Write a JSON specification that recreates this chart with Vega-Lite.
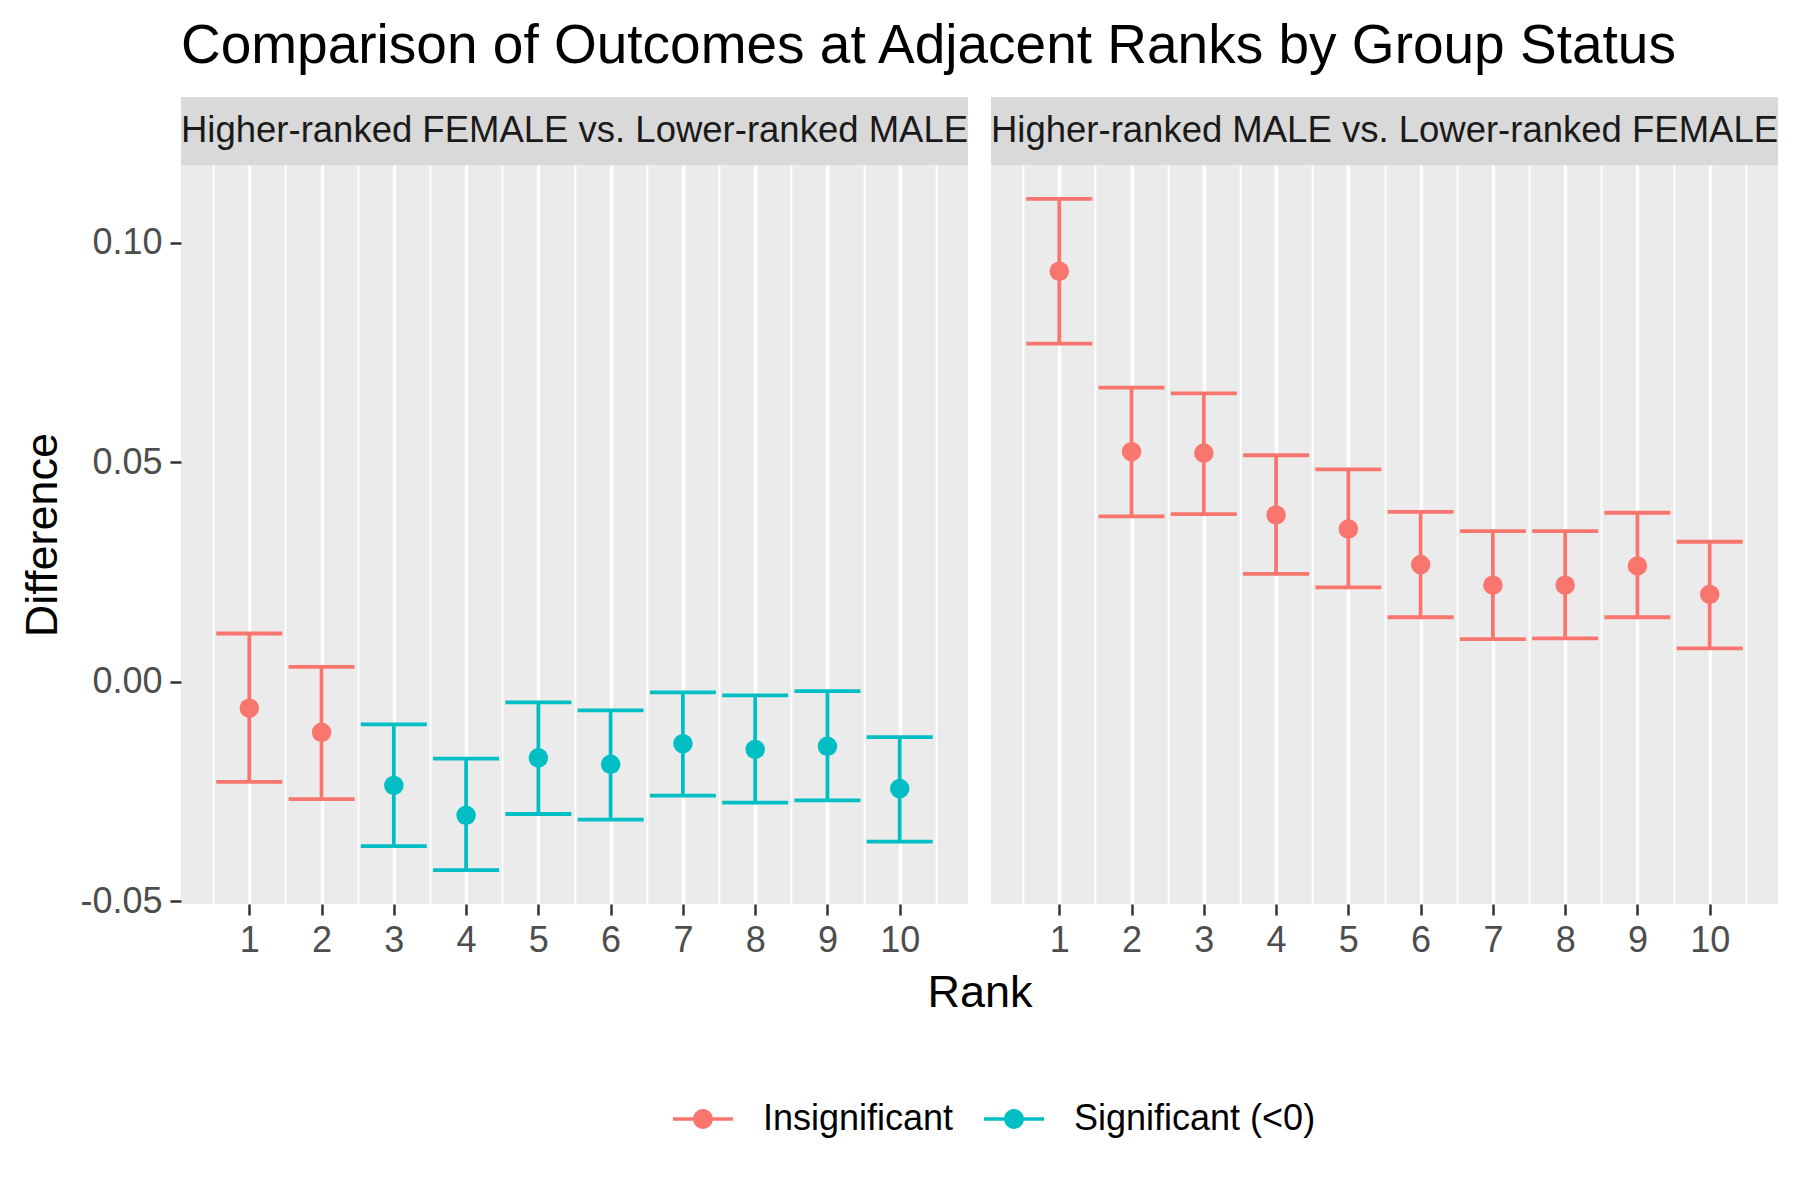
{
  "$schema": "https://vega.github.io/schema/vega-lite/v6.json",
  "padding": {"left": 20, "top": 19, "right": 20, "bottom": 10},
  "title": {"text": "Comparison of Outcomes at Adjacent Ranks by Group Status", "anchor": "start", "frame": "group", "fontSize": 55, "font": "Liberation Sans", "fontWeight": "normal", "color": "#000000", "offset": 22},
  "data": {"values": [
    {"panel": "Higher-ranked FEMALE vs. Lower-ranked MALE", "rank": 1, "diff": -0.0060, "lower": -0.0228, "upper": 0.0110, "sig": "Insignificant"},
    {"panel": "Higher-ranked FEMALE vs. Lower-ranked MALE", "rank": 2, "diff": -0.0115, "lower": -0.0267, "upper": 0.0034, "sig": "Insignificant"},
    {"panel": "Higher-ranked FEMALE vs. Lower-ranked MALE", "rank": 3, "diff": -0.0236, "lower": -0.0374, "upper": -0.0097, "sig": "Significant (<0)"},
    {"panel": "Higher-ranked FEMALE vs. Lower-ranked MALE", "rank": 4, "diff": -0.0304, "lower": -0.0429, "upper": -0.0175, "sig": "Significant (<0)"},
    {"panel": "Higher-ranked FEMALE vs. Lower-ranked MALE", "rank": 5, "diff": -0.0173, "lower": -0.0301, "upper": -0.0047, "sig": "Significant (<0)"},
    {"panel": "Higher-ranked FEMALE vs. Lower-ranked MALE", "rank": 6, "diff": -0.0188, "lower": -0.0314, "upper": -0.0065, "sig": "Significant (<0)"},
    {"panel": "Higher-ranked FEMALE vs. Lower-ranked MALE", "rank": 7, "diff": -0.0141, "lower": -0.0259, "upper": -0.0024, "sig": "Significant (<0)"},
    {"panel": "Higher-ranked FEMALE vs. Lower-ranked MALE", "rank": 8, "diff": -0.0154, "lower": -0.0275, "upper": -0.0031, "sig": "Significant (<0)"},
    {"panel": "Higher-ranked FEMALE vs. Lower-ranked MALE", "rank": 9, "diff": -0.0147, "lower": -0.0270, "upper": -0.0021, "sig": "Significant (<0)"},
    {"panel": "Higher-ranked FEMALE vs. Lower-ranked MALE", "rank": 10, "diff": -0.0243, "lower": -0.0364, "upper": -0.0126, "sig": "Significant (<0)"},
    {"panel": "Higher-ranked MALE vs. Lower-ranked FEMALE", "rank": 1, "diff": 0.0935, "lower": 0.0770, "upper": 0.1100, "sig": "Insignificant"},
    {"panel": "Higher-ranked MALE vs. Lower-ranked FEMALE", "rank": 2, "diff": 0.0524, "lower": 0.0377, "upper": 0.0670, "sig": "Insignificant"},
    {"panel": "Higher-ranked MALE vs. Lower-ranked FEMALE", "rank": 3, "diff": 0.0521, "lower": 0.0382, "upper": 0.0657, "sig": "Insignificant"},
    {"panel": "Higher-ranked MALE vs. Lower-ranked FEMALE", "rank": 4, "diff": 0.0380, "lower": 0.0246, "upper": 0.0516, "sig": "Insignificant"},
    {"panel": "Higher-ranked MALE vs. Lower-ranked FEMALE", "rank": 5, "diff": 0.0348, "lower": 0.0215, "upper": 0.0484, "sig": "Insignificant"},
    {"panel": "Higher-ranked MALE vs. Lower-ranked FEMALE", "rank": 6, "diff": 0.0267, "lower": 0.0147, "upper": 0.0387, "sig": "Insignificant"},
    {"panel": "Higher-ranked MALE vs. Lower-ranked FEMALE", "rank": 7, "diff": 0.0220, "lower": 0.0097, "upper": 0.0343, "sig": "Insignificant"},
    {"panel": "Higher-ranked MALE vs. Lower-ranked FEMALE", "rank": 8, "diff": 0.0220, "lower": 0.0099, "upper": 0.0343, "sig": "Insignificant"},
    {"panel": "Higher-ranked MALE vs. Lower-ranked FEMALE", "rank": 9, "diff": 0.0264, "lower": 0.0147, "upper": 0.0385, "sig": "Insignificant"},
    {"panel": "Higher-ranked MALE vs. Lower-ranked FEMALE", "rank": 10, "diff": 0.0199, "lower": 0.0076, "upper": 0.0319, "sig": "Insignificant"}
  ]},
  "bounds": "flush",
  "columns": 2,
  "spacing": {"row": 0, "column": 23},
  "concat": [
    {
      "width": 787, "height": 68,
      "view": {"fill": "#D9D9D9", "stroke": null},
      "transform": [
        {"filter": "datum.panel === 'Higher-ranked FEMALE vs. Lower-ranked MALE'"},
        {"aggregate": [{"op": "count", "as": "n"}], "groupby": ["panel"]}
      ],
      "mark": {"type": "text", "fontSize": 36.5, "color": "#1A1A1A", "font": "Liberation Sans", "align": "center", "baseline": "middle"},
      "encoding": {"text": {"field": "panel", "type": "nominal"}}
    },
    {
      "width": 787, "height": 68,
      "view": {"fill": "#D9D9D9", "stroke": null},
      "transform": [
        {"filter": "datum.panel === 'Higher-ranked MALE vs. Lower-ranked FEMALE'"},
        {"aggregate": [{"op": "count", "as": "n"}], "groupby": ["panel"]}
      ],
      "mark": {"type": "text", "fontSize": 36.5, "color": "#1A1A1A", "font": "Liberation Sans", "align": "center", "baseline": "middle"},
      "encoding": {"text": {"field": "panel", "type": "nominal"}}
    },
    {
      "width": 787, "height": 739,
      "view": {"fill": "#EBEBEB", "stroke": null},
      "transform": [{"filter": "datum.panel === 'Higher-ranked FEMALE vs. Lower-ranked MALE'"}],
      "encoding": {
        "x": {"field": "rank", "type": "quantitative",
          "scale": {"domain": [0.055, 10.945], "nice": false, "zero": false},
          "axis": {
            "values": [0.5, 1, 1.5, 2, 2.5, 3, 3.5, 4, 4.5, 5, 5.5, 6, 6.5, 7, 7.5, 8, 8.5, 9, 9.5, 10, 10.5],
            "labelExpr": "datum.value % 1 === 0 ? format(datum.value, 'd') : ''",
            "tickOpacity": {"condition": {"test": "datum.value % 1 !== 0", "value": 0}, "value": 1},
            "gridWidth": {"condition": {"test": "datum.value % 1 === 0", "value": 3.4}, "value": 1.7},
            "title": "Rank", "titleX": 798.5, "titleY": 102, "titleBaseline": "alphabetic", "titleAlign": "center"
          }
        }
      },
      "layer": [
        {
          "mark": {"type": "rule", "color": "#000000", "strokeWidth": 3.4},
          "encoding": {"y": {"datum": 0, "type": "quantitative",
            "scale": {"domain": [-0.0506, 0.1177], "nice": false, "zero": false},
            "axis": {
              "values": [-0.05, -0.025, 0, 0.025, 0.05, 0.075, 0.1],
              "labelExpr": "abs(datum.value*20 - round(datum.value*20)) < 0.000001 ? replace(format(datum.value, '.2f'), '\u2212', '-') : ''",
              "tickOpacity": {"condition": {"test": "abs(datum.value*20 - round(datum.value*20)) > 0.000001", "value": 0}, "value": 1},
              "gridWidth": {"condition": {"test": "abs(datum.value*20 - round(datum.value*20)) < 0.000001", "value": 3.4}, "value": 1.7},
              "title": "Difference", "titlePadding": 14
            }}}
        },
        {
          "mark": {"type": "rule", "strokeWidth": 3.8},
          "encoding": {
            "y": {"field": "lower", "type": "quantitative"},
            "y2": {"field": "upper"},
            "color": {"field": "sig", "type": "nominal"}
          }
        },
        {
          "mark": {"type": "tick", "orient": "horizontal", "size": 66, "thickness": 3.8, "opacity": 1},
          "encoding": {
            "y": {"field": "lower", "type": "quantitative"},
            "color": {"field": "sig", "type": "nominal"}
          }
        },
        {
          "mark": {"type": "tick", "orient": "horizontal", "size": 66, "thickness": 3.8, "opacity": 1},
          "encoding": {
            "y": {"field": "upper", "type": "quantitative"},
            "color": {"field": "sig", "type": "nominal"}
          }
        },
        {
          "mark": {"type": "point", "filled": true, "size": 380, "opacity": 1, "shape": "circle"},
          "encoding": {
            "y": {"field": "diff", "type": "quantitative"},
            "color": {"field": "sig", "type": "nominal",
              "scale": {"domain": ["Insignificant", "Significant (<0)"], "range": ["#F8766D", "#00BFC4"]},
              "legend": {"title": null, "orient": "none", "legendX": 492, "legendY": 992}}
          }
        }
      ]
    },
    {
      "width": 787, "height": 739,
      "view": {"fill": "#EBEBEB", "stroke": null},
      "transform": [{"filter": "datum.panel === 'Higher-ranked MALE vs. Lower-ranked FEMALE'"}],
      "encoding": {
        "x": {"field": "rank", "type": "quantitative",
          "scale": {"domain": [0.055, 10.945], "nice": false, "zero": false},
          "axis": {
            "values": [0.5, 1, 1.5, 2, 2.5, 3, 3.5, 4, 4.5, 5, 5.5, 6, 6.5, 7, 7.5, 8, 8.5, 9, 9.5, 10, 10.5],
            "labelExpr": "datum.value % 1 === 0 ? format(datum.value, 'd') : ''",
            "tickOpacity": {"condition": {"test": "datum.value % 1 !== 0", "value": 0}, "value": 1},
            "gridWidth": {"condition": {"test": "datum.value % 1 === 0", "value": 3.4}, "value": 1.7},
            "title": null
          }
        }
      },
      "layer": [
        {
          "mark": {"type": "rule", "color": "#000000", "strokeWidth": 3.4},
          "encoding": {"y": {"datum": 0, "type": "quantitative",
            "scale": {"domain": [-0.0506, 0.1177], "nice": false, "zero": false},
            "axis": {
              "values": [-0.05, -0.025, 0, 0.025, 0.05, 0.075, 0.1],
              "labels": false, "ticks": false, "title": null, "minExtent": 0, "maxExtent": 0,
              "gridWidth": {"condition": {"test": "abs(datum.value*20 - round(datum.value*20)) < 0.000001", "value": 3.4}, "value": 1.7}
            }}}
        },
        {
          "mark": {"type": "rule", "strokeWidth": 3.8},
          "encoding": {
            "y": {"field": "lower", "type": "quantitative"},
            "y2": {"field": "upper"},
            "color": {"field": "sig", "type": "nominal"}
          }
        },
        {
          "mark": {"type": "tick", "orient": "horizontal", "size": 66, "thickness": 3.8, "opacity": 1},
          "encoding": {
            "y": {"field": "lower", "type": "quantitative"},
            "color": {"field": "sig", "type": "nominal"}
          }
        },
        {
          "mark": {"type": "tick", "orient": "horizontal", "size": 66, "thickness": 3.8, "opacity": 1},
          "encoding": {
            "y": {"field": "upper", "type": "quantitative"},
            "color": {"field": "sig", "type": "nominal"}
          }
        },
        {
          "mark": {"type": "point", "filled": true, "size": 380, "opacity": 1, "shape": "circle"},
          "encoding": {
            "y": {"field": "diff", "type": "quantitative"},
            "color": {"field": "sig", "type": "nominal"}
          }
        }
      ]
    }
  ],
  "config": {
    "font": "Liberation Sans",
    "view": {"stroke": null},
    "axis": {
      "labelFont": "Liberation Sans", "labelFontSize": 36, "labelColor": "#4D4D4D",
      "titleFont": "Liberation Sans", "titleFontSize": 45, "titleColor": "#000000", "titleFontWeight": "normal",
      "tickColor": "#333333", "tickWidth": 2.5, "tickSize": 11, "labelPadding": 8,
      "domain": false, "gridColor": "#FFFFFF", "gridOpacity": 1
    },
    "legend": {
      "direction": "horizontal", "padding": 0,
      "labelFont": "Liberation Sans", "labelFontSize": 36, "labelColor": "#000000", "labelLimit": 0,
      "symbolType": "M-1,-0.057L1,-0.057L1,0.057L-1,0.057Z M0.33,0 A0.33,0.33 0 1,1 -0.33,0 A0.33,0.33 0 1,1 0.33,0 Z",
      "symbolSize": 3600, "symbolStrokeWidth": 0, "symbolOpacity": 1,
      "labelOffset": 30, "columnPadding": 30
    }
  }
}
